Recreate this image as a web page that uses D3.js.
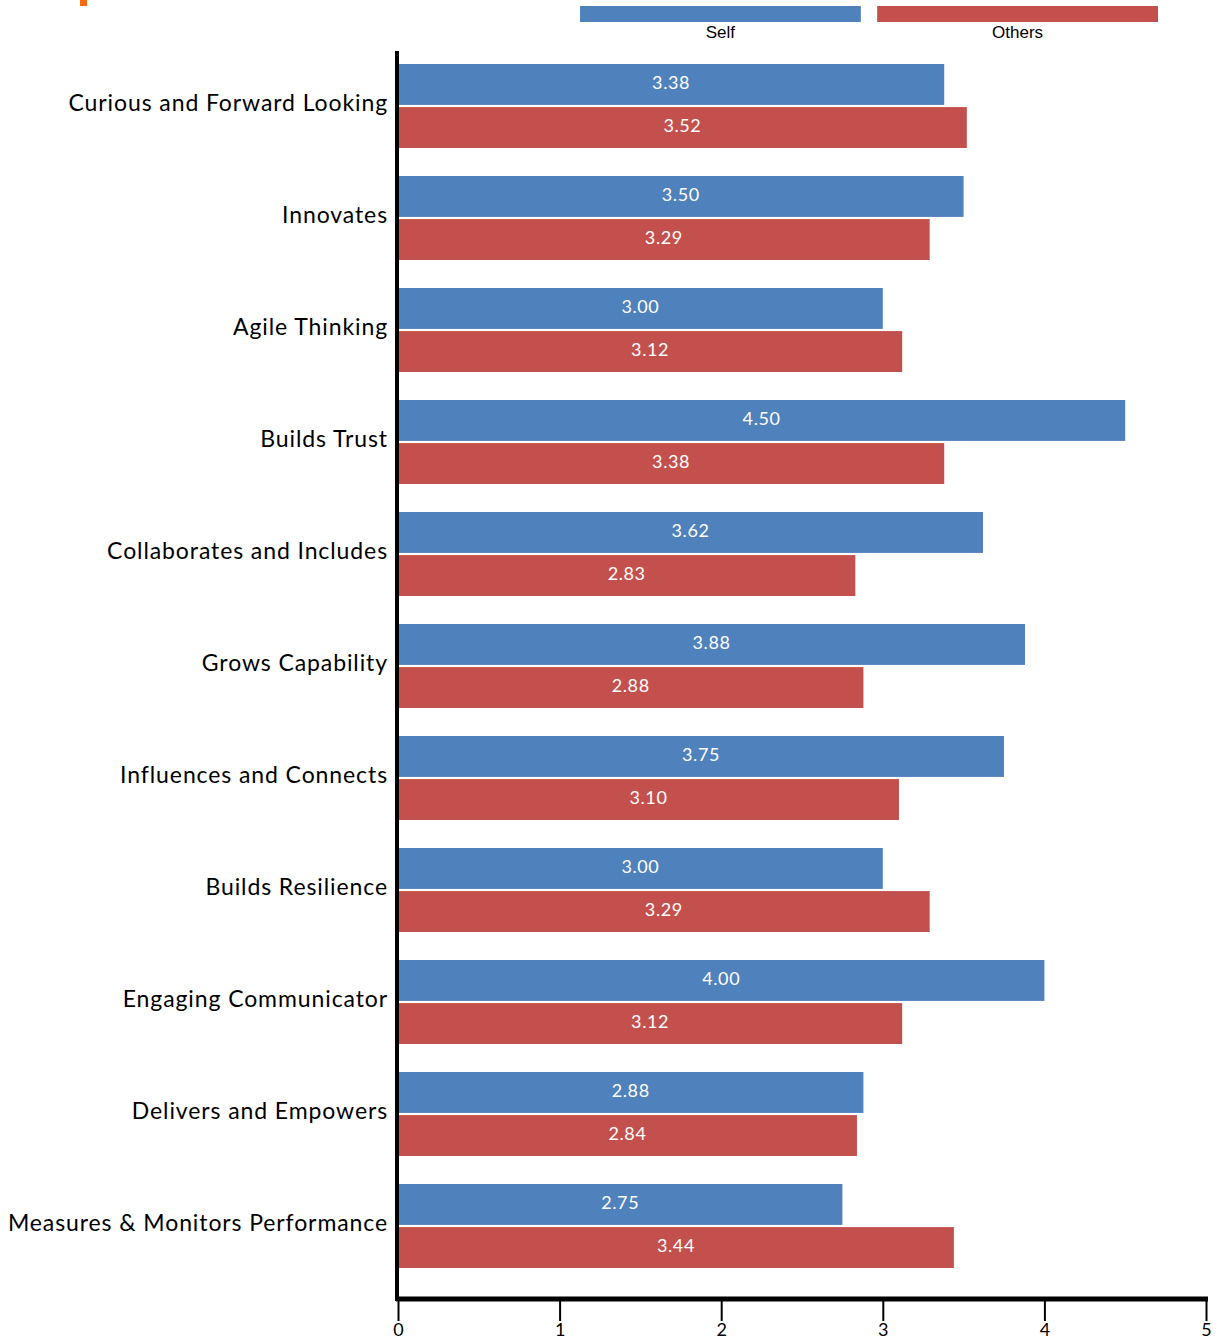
<!DOCTYPE html>
<html>
<head>
<meta charset="utf-8">
<script src="https://cdn.jsdelivr.net/npm/d3@7"></script>
<style>
  html, body { margin: 0; padding: 0; background: #fff; }
  svg { display: block; }
</style>
</head>
<body>
<svg id="chart" width="1226" height="1339"></svg>
<script>
const categories = [
  "Curious and Forward Looking",
  "Innovates",
  "Agile Thinking",
  "Builds Trust",
  "Collaborates and Includes",
  "Grows Capability",
  "Influences and Connects",
  "Builds Resilience",
  "Engaging Communicator",
  "Delivers and Empowers",
  "Measures & Monitors Performance"
];
const selfValues   = [3.38, 3.50, 3.00, 4.50, 3.62, 3.88, 3.75, 3.00, 4.00, 2.88, 2.75];
const othersValues = [3.52, 3.29, 3.12, 3.38, 2.83, 2.88, 3.10, 3.29, 3.12, 2.84, 3.44];
const seriesNames  = ["Self", "Others"];
const seriesColors = ["#4f81bd", "#c4504d"];
const xTicks = [0, 1, 2, 3, 4, 5];

const labelFont = "'Lato', 'Noto Sans', sans-serif";
const svg = d3.select("#chart");

const x = d3.scaleLinear().domain([0, 5]).range([398, 1206]);
const y = d3.scaleBand().domain(categories).range([50, 1282])
  .paddingInner(0.25).paddingOuter(0.125);
const ySub = d3.scaleBand().domain(seriesNames).range([0, y.bandwidth()]).paddingInner(0.05);

const rows = categories.map((c, i) => ({
  cat: c,
  values: [
    { series: "Self", v: selfValues[i] },
    { series: "Others", v: othersValues[i] }
  ]
}));

// small accent mark at the top edge
svg.append("rect").attr("x", 80).attr("y", 0).attr("width", 7).attr("height", 6)
  .attr("fill", "#f76b0c");

// legend
const legend = svg.append("g");
const legendX = d3.scaleBand().domain(seriesNames).range([580, 1158]).paddingInner(0.055);
seriesNames.forEach((s, i) => {
  legend.append("rect")
    .attr("x", legendX(s)).attr("y", 6)
    .attr("width", legendX.bandwidth()).attr("height", 16)
    .attr("fill", seriesColors[i]);
  legend.append("text")
    .attr("x", legendX(s) + legendX.bandwidth() / 2).attr("y", 38)
    .attr("text-anchor", "middle")
    .attr("font-family", "'Liberation Sans', Arial, sans-serif")
    .attr("font-size", 17).attr("fill", "#000")
    .text(s);
});

// bars
const groups = svg.append("g").selectAll("g").data(rows).join("g")
  .attr("transform", d => `translate(0,${y(d.cat)})`);

groups.selectAll("rect").data(d => d.values).join("rect")
  .attr("x", x(0))
  .attr("y", d => ySub(d.series))
  .attr("width", d => x(d.v) - x(0))
  .attr("height", ySub.bandwidth())
  .attr("fill", d => seriesColors[seriesNames.indexOf(d.series)]);

groups.selectAll("text.val").data(d => d.values).join("text")
  .attr("class", "val")
  .attr("x", d => (x(0) + x(d.v)) / 2)
  .attr("y", d => ySub(d.series) + ySub.bandwidth() / 2 - 2)
  .attr("dy", "0.35em")
  .attr("text-anchor", "middle")
  .attr("font-family", labelFont)
  .attr("font-size", 18)
  .attr("letter-spacing", 0.6)
  .attr("fill", "#fff")
  .text(d => d.v.toFixed(2));

// category labels
svg.append("g").selectAll("text").data(categories).join("text")
  .attr("x", 388)
  .attr("y", d => y(d) + y.bandwidth() / 2 - 3)
  .attr("dy", "0.35em")
  .attr("text-anchor", "end")
  .attr("font-family", labelFont)
  .attr("font-size", 23)
  .attr("letter-spacing", 0.9)
  .attr("fill", "#000")
  .text(d => d);

// vertical axis line
svg.append("line")
  .attr("x1", 397).attr("x2", 397)
  .attr("y1", 51).attr("y2", 1301)
  .attr("stroke", "#000").attr("stroke-width", 4);

// bottom axis
const xAxis = svg.append("g").attr("transform", "translate(0,1299)")
  .call(d3.axisBottom(x).tickValues(xTicks).tickFormat(d3.format("d")).tickSizeInner(22).tickSizeOuter(0));
xAxis.select(".domain").attr("stroke", "#000").attr("stroke-width", 5)
  .attr("d", `M${x(0) - 2},0H${x(5) + 2}`);
xAxis.selectAll(".tick line").attr("stroke", "#000").attr("stroke-width", 2);
xAxis.selectAll(".tick text")
  .attr("font-family", labelFont)
  .attr("font-size", 18)
  .attr("fill", "#000")
  .attr("y", 24)
  .attr("dy", "0.71em");
</script>
</body>
</html>
